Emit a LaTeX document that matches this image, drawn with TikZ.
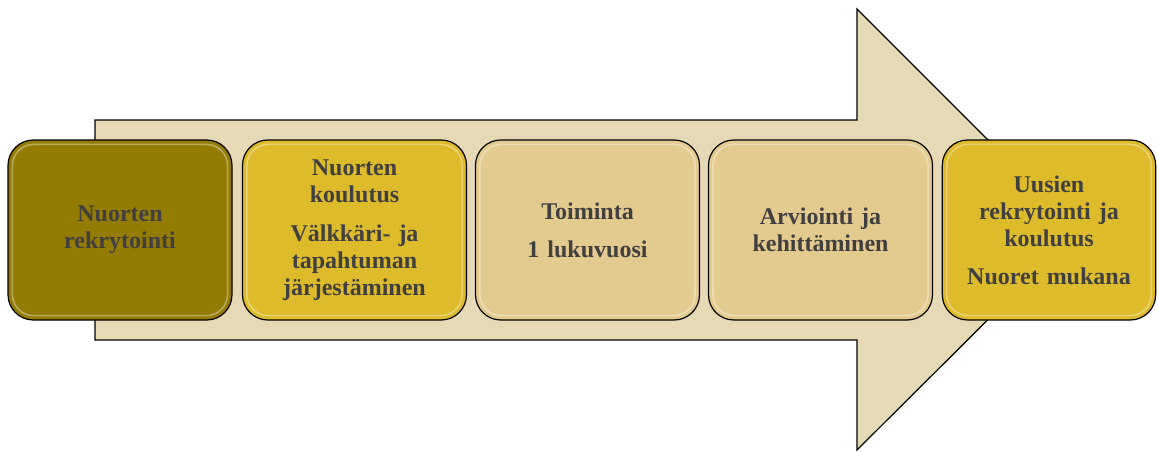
\documentclass[tikz,border=0pt]{standalone}
\usepackage{fontspec}
\setmainfont{Liberation Serif}
\usepackage{tikz}
\usetikzlibrary{calc}
\definecolor{arrowbeige}{HTML}{E5D9B6}
\definecolor{olivebox}{HTML}{937B04}
\definecolor{goldbox}{HTML}{DEBB2A}
\definecolor{sandbox}{HTML}{E3CB90}
\definecolor{txtgray}{HTML}{404040}
\tikzset{
	stepbox/.style={draw=black, line width=0.9pt, rounded corners=19pt,
		minimum height=135pt, text width=150pt, align=center,
		text=txtgray, font=\fontsize{18}{20.25}\selectfont\bfseries},
	glint/.style={draw=white, opacity=0.35, line width=1.2pt, rounded corners=16pt}
}

\begin{document}
\begin{tikzpicture}[x=0.75pt,y=-0.75pt]
			%%%%% START %%%%%
			\useasboundingbox (0,0) rectangle (1158,451);
			
			% big arrow behind the steps
			\draw[fill=arrowbeige, line width=0.9pt] (95,120) -- (857,120) -- (857,9) -- (1078,230)
				-- (857,450) -- (857,340) -- (95,340) -- cycle;
			
			\node[stepbox, fill=olivebox, minimum width=168pt] (rekry) at (120,230) {Nuorten\\rekrytointi};
			\node[stepbox, fill=goldbox, minimum width=168pt] (koulutus) at (354.5,230)
				{Nuorten\\koulutus\\[9pt]Välkkäri- ja\\tapahtuman\\järjestäminen};
			\node[stepbox, fill=sandbox, minimum width=168pt] (toiminta) at (587.5,230) {Toiminta\\[8pt]1 lukuvuosi};
			\node[stepbox, fill=sandbox, minimum width=168pt] (arviointi) at (820.5,230) {Arviointi ja\\kehittäminen};
			\node[stepbox, fill=goldbox, minimum width=160pt] (uusien) at (1049,230)
				{Uusien\\rekrytointi ja\\koulutus\\[8pt]Nuoret mukana};
			
			% glossy rims
			\foreach \b in {rekry,koulutus,toiminta,arviointi,uusien}{
				\draw[glint] ($(\b.north west)+(5,5)$) rectangle ($(\b.south east)+(-5,-5)$);
			}
			%%%%% END %%%%%
\end{tikzpicture}
\end{document}
